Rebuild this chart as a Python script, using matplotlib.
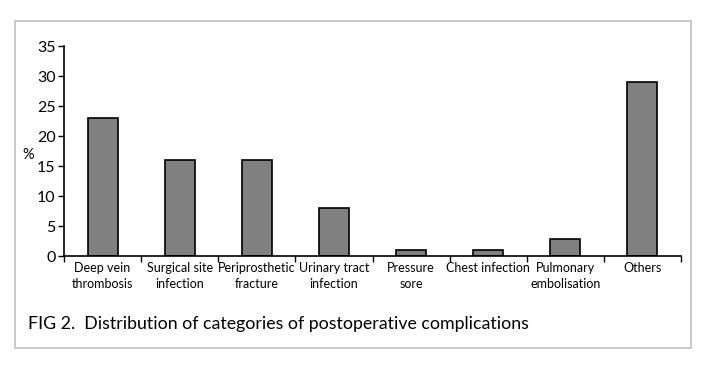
import matplotlib.pyplot as plt
import numpy as np
from matplotlib.patches import Rectangle

categories = ['Deep vein\nthrombosis', 'Surgical site\ninfection', 'Periprosthetic\nfracture',
              'Urinary tract\ninfection', 'Pressure\nsore', 'Chest infection',
              'Pulmonary\nembolisation', 'Others']
percent = [23, 16, 16, 8, 1, 1, 2.8, 29]
yticks = [0, 5, 10, 15, 20, 25, 30, 35]

W, H = 711, 374
fig = plt.figure(figsize=(W / 100, H / 100), dpi=100)
plt.rcParams['font.family'] = ['Lato', 'DejaVu Sans']

# outer frame
fig.patches.append(Rectangle((15 / W, 1 - 348 / H), 676 / W, 327 / H, transform=fig.transFigure,
                             fill=False, edgecolor='#c0c0c0', linewidth=1.2))

ax = fig.add_axes([64 / W, 1 - 256 / H, 617 / W, 210 / H])
x = np.arange(len(categories))
ax.bar(x, percent, width=0.39, color='#808080', edgecolor='black', linewidth=1.2)
ax.set_xlim(-0.5, len(categories) - 0.5)
ax.set_ylim(0, 35)
ax.set_yticks(yticks)
ax.set_yticklabels([str(v) for v in yticks], fontsize=11.5)
ax.set_xticks(np.arange(len(categories) + 1) - 0.5)
ax.set_xticklabels([])
ax.set_xticks(x, minor=True)
ax.set_xticklabels(categories, minor=True, fontsize=9, linespacing=1.45)
ax.tick_params(axis='x', which='minor', length=0, pad=4)
ax.tick_params(axis='x', which='major', length=4, width=1, direction='out')
ax.tick_params(axis='y', length=4, width=1, pad=2)
ax.spines['top'].set_visible(False)
ax.spines['right'].set_visible(False)
ax.spines['left'].set_linewidth(1.2)
ax.spines['bottom'].set_linewidth(1.2)

fig.text(28 / W, 1 - 155 / H, '%', fontsize=10.5, ha='center', va='center')
fig.text(28 / W, 1 - 324 / H, 'FIG 2.  Distribution of categories of postoperative complications',
         fontsize=12.8, ha='left', va='center')

fig.savefig('out.png', dpi=100)
